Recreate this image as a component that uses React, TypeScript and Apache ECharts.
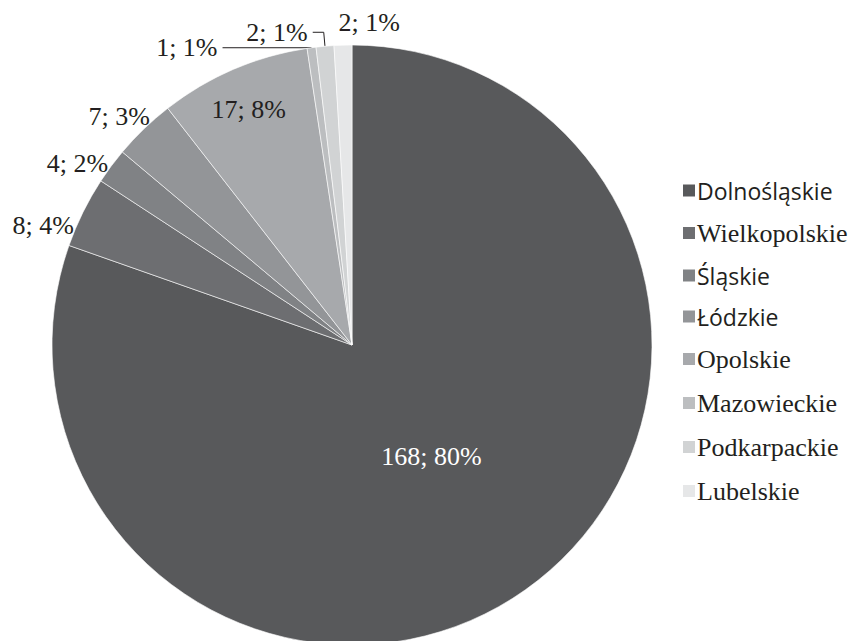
import React, { useEffect, useRef } from "react";
import * as echarts from "echarts";

const regions = ["Dolnośląskie", "Wielkopolskie", "Śląskie", "Łódzkie", "Opolskie", "Mazowieckie", "Podkarpackie", "Lubelskie"];
const counts = [168, 8, 4, 7, 17, 1, 2, 2];
const percentLabels = [80, 4, 2, 3, 8, 1, 1, 1];
const sliceColors = ["#58595b", "#6d6e71", "#808285", "#939598", "#a7a9ac", "#bcbec0", "#d1d3d4", "#e6e7e8"];
const sansNames = ["Dolnośląskie", "Śląskie", "Łódzkie"];

// label nudges (dx, dy) for labels without leader lines
const labelNudges: [number, number][] = [[-9, -13], [-4, 13], [2, -3], [11, -12], [-43, -95], [0, 0], [0, 0], [62, -23]];

const SERIF = "'Liberation Serif', 'Times New Roman', serif";
const SANS = "'Open Sans', 'Noto Sans', sans-serif";
const TEXT = "#231f20";

export default function App() {
  const ref = useRef<HTMLDivElement>(null);
  useEffect(() => {
    if (!ref.current) return;
    const chart = echarts.init(ref.current, undefined, { renderer: "svg" });
    const data = regions.map((name, i) => {
      const item: any = { name, value: counts[i], itemStyle: { color: sliceColors[i] } };
      if (i === 0) {
        item.label = { position: "inside", color: "#ffffff" };
      } else if (i === 4) {
        item.label = { position: "inside", color: TEXT };
      } else if (i === 5) {
        item.label = { position: "outside", padding: [0, 0, 12, 0] };
        item.labelLine = { show: true, length: 0, length2: 89 };
      } else if (i === 6) {
        item.label = { position: "outside", padding: [0, 0, 10, 0] };
        item.labelLine = { show: true, length: 14, length2: 11 };
      } else {
        item.label = { position: "outside" };
        item.labelLine = { show: false, length: 0, length2: 0 };
      }
      return item;
    });
    chart.setOption({
      animation: false,
      legend: {
        orient: "vertical",
        left: 676,
        top: 174,
        icon: "rect",
        itemWidth: 14,
        itemHeight: 14,
        itemGap: 18,
        selectedMode: false,
        data: regions,
        formatter: (name: string) => (sansNames.includes(name) ? `{s|${name}}` : `{r|${name}}`),
        textStyle: {
          color: TEXT,
          padding: [0, 0, 0, -4],
          rich: {
            s: { fontFamily: SANS, fontSize: 23, color: TEXT, lineHeight: 26 },
            r: { fontFamily: SERIF, fontSize: 26, color: TEXT, lineHeight: 26 },
          },
        },
      },
      series: [
        {
          type: "pie",
          center: [352, 345],
          radius: 300,
          startAngle: 90,
          clockwise: true,
          avoidLabelOverlap: false,
          data,
          itemStyle: { borderColor: "#ffffff", borderWidth: 0.6 },
          label: {
            fontFamily: SERIF,
            fontSize: 26,
            color: TEXT,
            formatter: (p: any) => `${counts[p.dataIndex]}; ${percentLabels[p.dataIndex]}%`,
          },
          labelLine: { lineStyle: { color: TEXT, width: 1 } },
          labelLayout: (p: any) => {
            const n = labelNudges[p.dataIndex];
            if (p.dataIndex === 5 || p.dataIndex === 6) return {};
            return { dx: n[0], dy: n[1] };
          },
          emphasis: { disabled: true },
        },
      ],
    });
    return () => chart.dispose();
  }, []);
  return <div ref={ref} style={{ position: "fixed", left: 0, top: 0, width: 853, height: 641, background: "#ffffff" }} />;
}
